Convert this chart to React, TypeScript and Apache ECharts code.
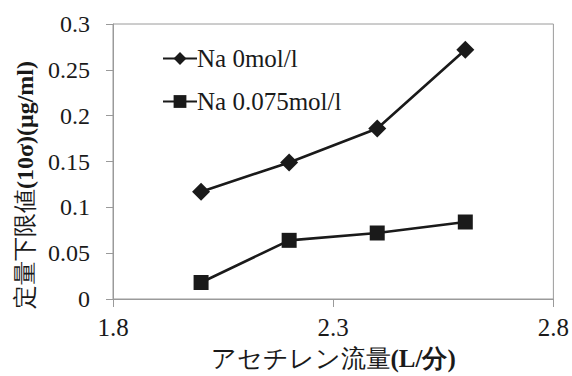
import React, { useEffect, useRef } from "react";
import * as echarts from "echarts";

const xValues = [2.0, 2.2, 2.4, 2.6];
const seriesNames = ["Na 0mol/l", "Na 0.075mol/l"];
const na0 = [0.117, 0.149, 0.186, 0.272];
const na075 = [0.018, 0.064, 0.072, 0.084];
const yTitleJa = "定量下限値";
const yTitleUnit = "(10σ)(μg/ml)";
const xTitleJa = "アセチレン流量";
const xTitleUnit = "(L/分)";

const SERIF = "Liberation Serif";
const NARROW = "Liberation Sans Narrow";

export default function App() {
  const ref = useRef<HTMLDivElement>(null);
  useEffect(() => {
    if (!ref.current) return;
    const chart = echarts.init(ref.current, undefined, { renderer: "svg" });
    const axisColor = "#9a9a9a";
    chart.setOption({
      animation: false,
      backgroundColor: "#fff",
      grid: {
        left: 113,
        right: 17,
        top: 24,
        bottom: 72,
        show: true,
        borderColor: axisColor,
        borderWidth: 1,
        containLabel: false,
      },
      legend: {
        orient: "vertical",
        left: 157,
        top: 41,
        itemWidth: 34,
        itemHeight: 16,
        itemGap: 18,
        textStyle: { fontFamily: SERIF, fontSize: 25, color: "#1a1a1a", padding: [0, 0, 0, -5] },
        data: seriesNames,
      },
      xAxis: {
        type: "value",
        min: 1.8,
        max: 2.8,
        interval: 0.5,
        name: `{ja|${xTitleJa}}{b|${xTitleUnit}}`,
        nameLocation: "middle",
        nameGap: 47,
        nameTextStyle: {
          rich: {
            ja: { fontFamily: SERIF, fontSize: 25, color: "#1a1a1a" },
            b: { fontFamily: SERIF, fontSize: 25, fontWeight: "bold", color: "#1a1a1a" },
          },
        },
        axisLine: { show: true, lineStyle: { color: axisColor, width: 1 } },
        axisTick: { show: true, length: 8, lineStyle: { color: axisColor } },
        splitLine: { show: false },
        axisLabel: {
          margin: 16,
          fontFamily: NARROW,
          fontSize: 25,
          color: "#1a1a1a",
          formatter: (v: number) => v.toFixed(1),
        },
      },
      yAxis: {
        type: "value",
        min: 0,
        max: 0.3,
        interval: 0.05,
        axisLine: { show: true, lineStyle: { color: axisColor, width: 1 } },
        axisTick: { show: true, length: 7, lineStyle: { color: axisColor } },
        splitLine: { show: false },
        axisLabel: {
          margin: 23,
          fontFamily: SERIF,
          fontSize: 24,
          color: "#1a1a1a",
          formatter: (v: number) => String(parseFloat(v.toFixed(2))),
        },
      },
      graphic: [
        {
          type: "text",
          x: 25,
          y: 185,
          rotation: Math.PI / 2,
          style: {
            text: `{ja|${yTitleJa}}{b|${yTitleUnit}}`,
            align: "center",
            verticalAlign: "middle",
            rich: {
              ja: { fontFamily: SERIF, fontSize: 24, fill: "#1a1a1a" },
              b: { fontFamily: SERIF, fontSize: 24, fontWeight: "bold", fill: "#1a1a1a" },
            },
          },
        },
      ],
      series: [
        {
          name: seriesNames[0],
          type: "line",
          data: xValues.map((x, i) => [x, na0[i]]),
          symbol: "diamond",
          symbolSize: 18,
          lineStyle: { color: "#1a1a1a", width: 2.6 },
          itemStyle: { color: "#1a1a1a" },
        },
        {
          name: seriesNames[1],
          type: "line",
          data: xValues.map((x, i) => [x, na075[i]]),
          symbol: "rect",
          symbolSize: 15,
          lineStyle: { color: "#1a1a1a", width: 2.6 },
          itemStyle: { color: "#1a1a1a" },
        },
      ],
    });
    return () => chart.dispose();
  }, []);
  return <div ref={ref} style={{ width: 572, height: 376, position: "absolute", left: 0, top: 0 }} />;
}
